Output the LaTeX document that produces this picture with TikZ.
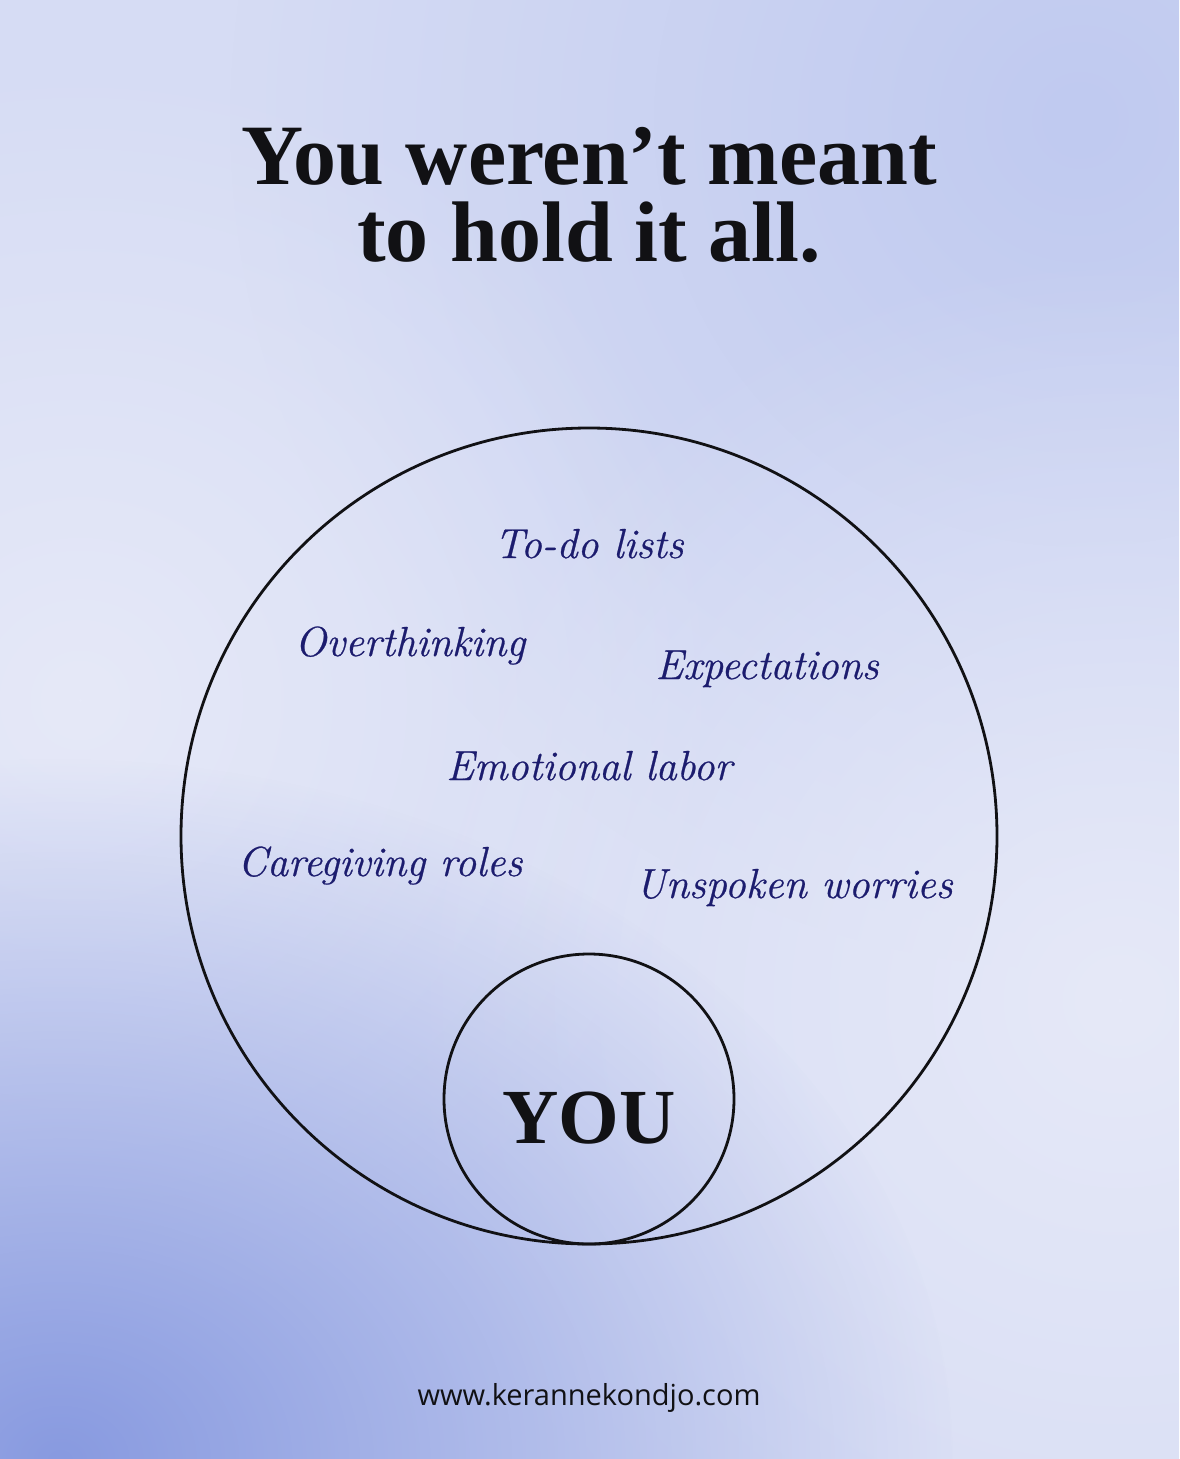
\documentclass[tikz,border=0pt]{standalone}
\usepackage{fontspec}
\usetikzlibrary{fadings}
\newfontfamily\headfont{Liberation Serif}
\newfontfamily\loadfont[FakeBold=0.6]{Latin Modern Roman}
\newfontfamily\sitefont{Open Sans}
\definecolor{bgbase}{RGB}{214,220,244}
\definecolor{bgsky}{RGB}{192,202,240}
\definecolor{bgdeep}{RGB}{136,154,224}
\definecolor{bgmist}{RGB}{230,233,248}
\definecolor{labelnavy}{RGB}{28,28,110}
\definecolor{inkdark}{RGB}{17,17,20}
\tikzfading[name=softblob, inner color=transparent!0, outer color=transparent!100]
\tikzset{
  headline/.style={font=\headfont\bfseries\fontsize{86}{77}\selectfont, text=inkdark, inner sep=0pt},
  burden/.style={font=\loadfont\itshape\fontsize{42}{48}\selectfont, text=labelnavy, inner sep=0pt, anchor=base},
  ring/.style={draw=inkdark, line width=2.8pt}
}
\begin{document}
\begin{tikzpicture}[x=1pt, y=-1pt]
  \useasboundingbox (0,0) rectangle (1179,1459);
  % background wash
  \begin{scope}
    \clip (0,0) rectangle (1179,1459);
    \fill[bgbase] (0,0) rectangle (1179,1459);
    \fill[bgsky, path fading=softblob] (1080,120) circle (850pt);
    \fill[bgmist, path fading=softblob] (80,700) circle (650pt);
    \fill[bgmist, path fading=softblob] (1120,1000) circle (750pt);
    \fill[bgdeep, path fading=softblob] (60,1459) ellipse (900pt and 700pt);
  \end{scope}
  % title
  \node[headline, align=center, anchor=north] (title) at (589,127) {You weren’t meant\\to hold it all.};
  % the load
  \draw[ring] (589,836) circle (408pt);
  \node[burden] (todo) at (589,558) {To-do lists};
  \node[burden] (overthink) at (410,656) {Overthinking};
  \node[burden] (expect) at (767,679) {Expectations};
  \node[burden] (emotion) at (589,780) {Emotional labor};
  \node[burden] (caregive) at (380,876) {Caregiving roles};
  \node[burden] (unspoken) at (794,898) {Unspoken worries};
  % the person
  \draw[ring] (589,1099) circle (145pt);
  \node[headline, anchor=base, font=\headfont\bfseries\fontsize{78}{80}\selectfont] (you) at (589,1143) {YOU};
  % footer
  \node[font=\sitefont\fontsize{29}{32}\selectfont, text=inkdark, inner sep=0pt, anchor=base] (site) at (589,1405) {www.kerannekondjo.com};
\end{tikzpicture}
\end{document}
